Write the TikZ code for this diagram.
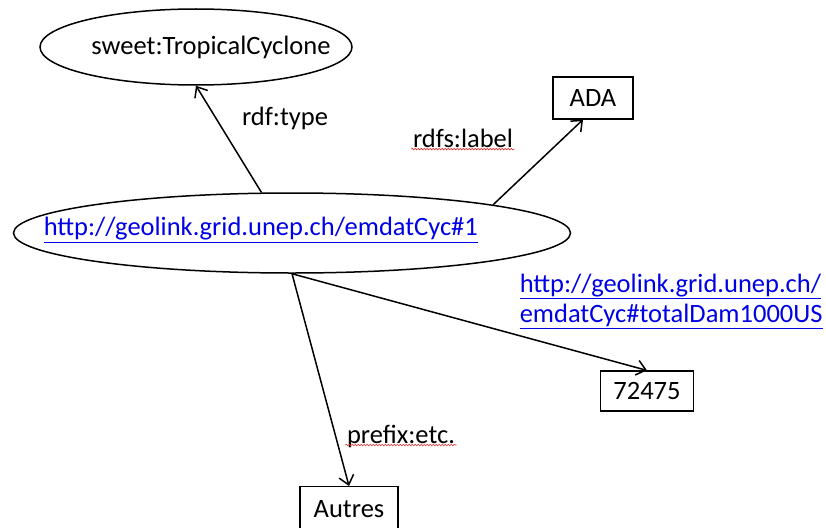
\documentclass[tikz,border=0pt]{standalone}
\usepackage{fontspec}
\setmainfont{Carlito}
\usepackage{tikz}
\usetikzlibrary{shapes.geometric, arrows.meta, decorations.pathmorphing}
\definecolor{linkblue}{RGB}{0,0,230}
\definecolor{wavyred}{RGB}{225,50,50}

\begin{document}
\begin{tikzpicture}[x=1pt, y=-1pt, font=\fontsize{26.5}{30}\selectfont, line width=1.5pt,
        >={Straight Barb[length=9pt,width=15pt]},
        oval/.style={draw, ellipse, inner sep=0pt},
        box/.style={draw, rectangle, inner sep=0pt, line width=1.2pt},
        tag/.style={inner sep=1pt},
        link/.style={text=linkblue, inner sep=1pt},
        squiggle/.style={wavyred, line width=0.6pt, decorate, decoration={snake, amplitude=0.8pt, segment length=3pt}}]
        \useasboundingbox (0, 0) rectangle (826, 527);
        \node[oval, minimum width=312pt, minimum height=76pt] (class) at (196, 47) {};
        \node[tag] (classtext) at (211, 47) {sweet:TropicalCyclone};
        \node[oval, minimum width=557pt, minimum height=80pt] (subject) at (292, 233) {};
        \node[link, anchor=west] (subjecturl) at (42, 230) {\underline{http://geolink.grid.unep.ch/emdatCyc\#1}};
        \node[box, minimum width=80pt, minimum height=42pt] (ada) at (593, 98) {ADA};
        \node[box, minimum width=93pt, minimum height=40pt] (amount) at (647, 391) {72475};
        \node[box, minimum width=98pt, minimum height=44pt, anchor=north] (other) at (349, 486) {Autres};
        \node[tag] (typelabel) at (285, 118) {rdf:type};
        \node[tag] (labellabel) at (463, 138) {rdfs:label};
        \node[link, align=left, anchor=north west] (damlabel) at (518, 272) {\underline{http://geolink.grid.unep.ch/}\\\underline{emdatCyc\#totalDam1000US}};
        \node[tag] (etclabel) at (401, 436) {prefix:etc.};
        \draw[squiggle] ([yshift=-2pt]labellabel.base west) -- ([yshift=-2pt]labellabel.base east);
        \draw[squiggle] ([yshift=-2pt]etclabel.base west) -- ([yshift=-2pt]etclabel.base east);
        \draw[->] (subject.127) -- (class.south);
        \draw[->] (subject.8) -- ([xshift=-10pt]ada.south);
        \draw[->] (subject.south) -- (amount.north);
        \draw[->] (subject.south) -- (other.north);
\end{tikzpicture}
\end{document}
